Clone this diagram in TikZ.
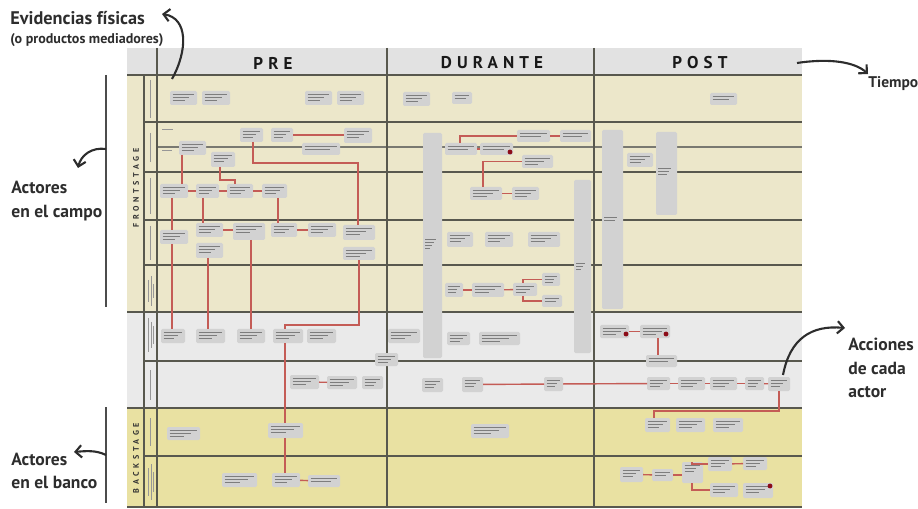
\documentclass[tikz,border=0pt]{standalone}
\usepackage{fontspec}
\setmainfont{PT Sans}
\newfontfamily\annotfont{PT Sans}
\newfontfamily\headfont[LetterSpace=30]{PT Sans}
\newfontfamily\stagefont[LetterSpace=45]{PT Sans}
\usetikzlibrary{arrows.meta}

\definecolor{headbg}{RGB}{226,226,226}
\definecolor{frontbg}{RGB}{236,231,202}
\definecolor{midbg}{RGB}{234,234,234}
\definecolor{backbg}{RGB}{233,225,162}
\definecolor{gridc}{RGB}{88,88,78}
\definecolor{boxc}{RGB}{210,210,210}
\definecolor{txtc}{RGB}{125,125,125}
\definecolor{linkc}{RGB}{196,92,86}
\definecolor{dotc}{RGB}{140,12,24}
\definecolor{annc}{RGB}{45,45,45}

\tikzset{
  gridline/.style={draw=gridc, line width=0.85pt},
  gridthin/.style={draw=gridc!80, line width=0.6pt},
  abox/.style={fill=boxc, draw=none, rounded corners=0.8pt, inner sep=0pt, outer sep=0pt},
  link/.style={draw=linkc, line width=0.8pt},
  txl/.style={draw=txtc, line width=0.5pt},
  lbl/.style={draw=txtc!80, line width=0.45pt},
  reddot/.style={fill=dotc},
  callout/.style={draw=annc, line width=1.2pt, -{Straight Barb[length=3.5pt,width=7pt]}},
  bracketline/.style={draw=annc!85, line width=1.2pt},
  annot/.style={font=\annotfont\bfseries\fontsize{10}{13.5}\selectfont, text=annc, inner sep=0pt, align=left},
  annottitle/.style={font=\annotfont\bfseries\fontsize{10.4}{12}\selectfont, text=annc, inner sep=0pt},
  annotsm/.style={font=\annotfont\bfseries\fontsize{8}{9}\selectfont, text=annc, inner sep=0pt},
  annotside/.style={font=\annotfont\bfseries\fontsize{8.8}{10}\selectfont, text=annc, inner sep=0pt},
  head/.style={font=\headfont\bfseries\fontsize{9.7}{11}\selectfont, text=black!90, inner sep=0pt},
  stage/.style={font=\stagefont\bfseries\fontsize{4.6}{5}\selectfont, text=black!80, inner sep=0pt},
}

% activity card: name, x1, y1, x2, y2 (pixel grid, y downwards)
\newcommand\actbox[5]{%
  \node[abox, minimum width={(#4-#2)*0.02cm}, minimum height={(#5-#3)*0.02cm}] (#1) at ({(#2+#4)/2},{(#3+#5)/2}) {};
  \pgfmathsetmacro\bxw{#4-#2}%
  \pgfmathtruncatemacro\bxh{#5-#3}%
  \draw[txl] ({#2+2.5},{#3+3.8}) -- ({#4-3},{#3+3.8});
  \draw[txl] ({#2+2.5},{#3+6.8}) -- ({#4-2.5-0.2*\bxw},{#3+6.8});
  \ifnum\bxh>12 \draw[txl] ({#2+2.5},{#3+9.8}) -- ({#2+2.5+0.45*\bxw},{#3+9.8});\fi
}
% tall card: name, x1, y1, x2, y2, first text line y, number of text lines
\newcommand\tallcard[7]{%
  \node[abox, minimum width={(#4-#2)*0.02cm}, minimum height={(#5-#3)*0.02cm}] (#1) at ({(#2+#4)/2},{(#3+#5)/2}) {};
  \foreach \k in {1,...,#7}{
    \draw[txl] ({#2+2},{#6+3*(\k-1)}) -- ({#4-4-2*\k},{#6+3*(\k-1)});
  }
}

\begin{document}
\begin{tikzpicture}[x=0.02cm, y=-0.02cm]
\useasboundingbox (0,0) rectangle (918,509);

% ---- bands ----
\fill[headbg]  (127,48)  rectangle (802,75);
\fill[frontbg] (127,75)  rectangle (802,312);
\fill[midbg]   (127,312) rectangle (802,408);
\fill[backbg]  (127,408) rectangle (802,507);

% ---- grid ----
\foreach \yy in {75,312,408,507} \draw[gridline] (127,\yy) -- (802,\yy);
\foreach \yy in {122,172,220,265,361,456} \draw[gridline] (144,\yy) -- (802,\yy);
\draw[gridthin] (157,147) -- (802,147);
\draw[gridline] (144,75) -- (144,507);
\foreach \xx in {157,387,594} \draw[gridline] (\xx,48) -- (\xx,507);

% ---- phase headings ----
\node[head] (pre) at (273,63) {PRE};
\node[head] (durante) at (492,63) {DURANTE};
\node[head] (post) at (700,63) {POST};

% ---- stage labels ----
\node[stage, rotate=90] (front) at (136,188) {FRONTSTAGE};
\node[stage, rotate=90] (back) at (136,458) {BACKSTAGE};

% ---- lane labels ----
\draw[lbl] (150.5,80) -- (150.5,118);
\draw[lbl] (150.5,133) -- (150.5,162);
\draw[lbl] (150.5,178) -- (150.5,214);
\draw[lbl] (150.5,226) -- (150.5,260);
\draw[lbl] (148.5,280) -- (148.5,302);
\draw[lbl] (151,276) -- (151,306);
\draw[lbl] (153.5,284) -- (153.5,298);
\draw[lbl] (148.5,318) -- (148.5,352);
\draw[lbl] (151,322) -- (151,348);
\draw[lbl] (153.5,326) -- (153.5,344);
\draw[lbl] (150.5,370) -- (150.5,400);
\draw[lbl] (150.5,418) -- (150.5,446);
\draw[lbl] (148.5,468) -- (148.5,496);
\draw[lbl] (151,464) -- (151,500);
\draw[lbl] (153.5,472) -- (153.5,492);
\draw[lbl] (162,129) -- (173,129);
\draw[lbl] (162,150) -- (172,150);

% ---- tall cards ----
\tallcard{bar1}{423}{133}{442}{358}{239}{4}
\tallcard{bar2}{574}{180}{591}{353}{263}{3}
\tallcard{bar3}{602}{130}{623}{309}{217}{2}
\tallcard{bar4}{656}{132}{677}{215}{168}{3}

% ---- evidence lane ----
\actbox{e1}{170}{91}{197}{105}
\actbox{e2}{202}{91}{230}{105}
\actbox{e3}{305}{91}{332}{105}
\actbox{e4}{337}{91}{364}{105}
\actbox{e5}{403}{92}{430}{106}
\actbox{e6}{452}{92}{472}{104}
\actbox{e7}{710}{93}{737}{105}

% ---- PRE, field actors ----
\actbox{pA}{240}{128}{263}{142}
\actbox{pB}{271}{128}{293}{142}
\actbox{pC}{344}{128}{372}{143}
\actbox{pD}{302}{143}{340}{155}
\actbox{pE}{179}{141}{206}{155}
\actbox{pF}{211}{152}{235}{167}
\actbox{pG}{160}{184}{188}{198}
\actbox{pH}{196}{184}{219}{198}
\actbox{pI}{227}{184}{253}{198}
\actbox{pJ}{262}{184}{287}{198}
\actbox{pK}{160}{230}{188}{244}
\actbox{pL}{196}{223}{223}{237}
\actbox{pM}{233}{223}{265}{240}
\actbox{pN}{271}{223}{297}{237}
\actbox{pO}{308}{223}{336}{237}
\actbox{pP}{343}{225}{375}{240}
\actbox{pL2}{196}{243}{223}{258}
\actbox{pP2}{343}{247}{375}{260}

% ---- PRE, coordination lanes ----
\actbox{r1}{161}{329}{185}{343}
\actbox{r2}{196}{329}{225}{343}
\actbox{r3}{237}{329}{265}{343}
\actbox{rQ}{273}{329}{303}{343}
\actbox{r5}{307}{329}{336}{343}
\actbox{s1}{290}{375}{319}{389}
\actbox{s2}{327}{376}{357}{389}
\actbox{s3}{362}{376}{383}{389}
\actbox{b1}{375}{353}{398}{366}

% ---- PRE, bank ----
\actbox{q1}{167}{427}{200}{440}
\actbox{qQ2}{268}{423}{303}{438}
\actbox{x1}{222}{473}{257}{487}
\actbox{xQ}{272}{473}{300}{487}
\actbox{x3}{308}{475}{340}{487}

% ---- DURANTE ----
\actbox{dA}{445}{143}{477}{155}
\actbox{dB}{517}{130}{550}{142}
\actbox{dC}{560}{130}{591}{142}
\actbox{dD}{480}{143}{513}{155}
\actbox{dE}{522}{155}{553}{168}
\actbox{dF}{470}{187}{502}{200}
\actbox{dG}{512}{187}{539}{200}
\actbox{dH}{447}{232}{473}{247}
\actbox{dI}{485}{232}{513}{247}
\actbox{dJ}{528}{232}{560}{247}
\actbox{dK}{445}{283}{463}{297}
\actbox{dL}{472}{283}{504}{297}
\actbox{dM}{513}{283}{537}{296}
\actbox{dN}{542}{273}{560}{286}
\actbox{dO}{542}{295}{562}{307}
\actbox{d1}{388}{329}{420}{343}
\actbox{d2}{447}{332}{470}{345}
\actbox{d3}{479}{332}{520}{345}
\actbox{s4}{422}{378}{443}{392}
\actbox{s5}{462}{377}{483}{392}
\actbox{s6}{544}{377}{563}{391}
\actbox{w1}{471}{424}{509}{438}

% ---- POST ----
\actbox{z1}{627}{153}{653}{167}
\actbox{u1}{600}{325}{629}{338}
\actbox{u2}{640}{325}{670}{338}
\actbox{u3}{646}{355}{677}{367}
\actbox{t1}{647}{377}{670}{390}
\actbox{t2}{678}{377}{705}{390}
\actbox{t3}{710}{377}{737}{390}
\actbox{t4}{745}{377}{764}{390}
\actbox{t5}{768}{377}{790}{391}
\actbox{v1}{645}{418}{670}{432}
\actbox{v2}{676}{418}{705}{432}
\actbox{v3}{713}{418}{743}{432}
\actbox{y1}{620}{467}{643}{482}
\actbox{y2}{652}{469}{673}{481}
\actbox{y3}{682}{462}{703}{483}
\actbox{y4}{708}{457}{732}{471}
\actbox{y5}{743}{457}{767}{470}
\actbox{y6}{710}{483}{738}{497}
\actbox{y7}{743}{483}{773}{498}

% ---- markers ----
\fill[reddot] (510,152) circle[radius=1.4pt];
\fill[reddot] (626,334) circle[radius=1.4pt];
\fill[reddot] (666,334) circle[radius=1.4pt];
\fill[reddot] (770,486) circle[radius=1.4pt];

% ---- flows, PRE ----
\draw[link] (pB.east) -- (pB.east -| pC.west);
\draw[link] (pA.south -| 253,0) -- ++(0,21) -| (pP.north -| 358,0);
\draw[link] (pE.south -| 182,0) -- (pG.north -| 182,0);
\draw[link] (pF.south -| 220,0) -- ++(0,13) -| (pI.north -| 235,0);
\draw[link] (pG) -- (pH);
\draw[link] (pH) -- (pI);
\draw[link] (pI) -- (pJ);
\draw[link] (pG.south -| 172,0) -- (pK.north -| 172,0);
\draw[link] (pH.south -| 203,0) -- (pL.north -| 203,0);
\draw[link] (pJ.south -| 278,0) -- (pN.north -| 278,0);
\draw[link] (pL.east) -- (pL.east -| pM.west);
\draw[link] (pN) -- (pO);
\draw[link] (pK.south -| 172,0) -- (r1.north -| 172,0);
\draw[link] (pL2.south -| 208,0) -- (r2.north -| 208,0);
\draw[link] (pM.south -| 251,0) -- (r3.north -| 251,0);
\draw[link] (pP2.south -| 359,0) -- ++(0,65) -| (rQ.north -| 285,0);
\draw[link] (rQ.south -| 285,0) -- (qQ2.north -| 285,0);
\draw[link] (qQ2.south -| 285,0) -- (xQ.north -| 285,0);
\draw[link] (xQ) -- (x3);
\draw[link] (s1) -- (s2);

% ---- flows, DURANTE ----
\draw[link] (dA.north -| 460,0) |- (dB.west);
\draw[link] (dB) -- (dC);
\draw[link] (dA) -- (dD);
\draw[link] (dE.west) -| (dF.north -| 483,0);
\draw[link] (dF) -- (dG);
\draw[link] (dK) -- (dL);
\draw[link] (dL) -- (dM);
\draw[link] (dM.north -| 523,0) |- (dN.west);
\draw[link] (dM.south -| 523,0) |- (dO.west);
\draw[link] (s5) -- (s6);
\draw[link] (s6) -- (t1);

% ---- flows, POST ----
\draw[link] (t1) -- (t2);
\draw[link] (t2) -- (t3);
\draw[link] (t3) -- (t4);
\draw[link] (t4) -- (t5);
\draw[link] (u1) -- (u2);
\draw[link] (u2.south -| 658,0) -- (u3.north -| 658,0);
\draw[link] (t5.south -| 779,0) -- ++(0,20) -| (v1.north -| 654,0);
\draw[link] (y1) -- (y2);
\draw[link] (y2.east) -- (y2.east -| y3.west);
\draw[link] (y3.north -| 692,0) |- (y4.west);
\draw[link] (y3.south -| 692,0) |- (y6.west);
\draw[link] (y4) -- (y5);

% ---- annotations ----
\node[annottitle, anchor=west] (evid) at (10,18) {Evidencias físicas};
\node[annotsm, anchor=west] (evidsub) at (10,40) {(o productos mediadores)};
\coordinate (evfoot) at (172,79);
\coordinate (evtip) at (162,14);
\draw[callout] (evfoot) .. controls (188,50) and (188,18) .. (evtip);

\node[annotside, anchor=west] (tiempo) at (868,84) {Tiempo};
\coordinate (tfoot) at (797,63);
\coordinate (ttip) at (868,74);
\draw[callout] (tfoot) .. controls (830,58) and (855,62) .. (ttip);

\node[annot, anchor=west] (acciones) at (848,368) {Acciones\\de cada\\actor};
\coordinate (afoot) at (783,375);
\coordinate (atip) at (845,328);
\draw[callout] (afoot) .. controls (790,338) and (812,325) .. (atip);

\draw[bracketline] (106,75) -- (106,307);
\node[annot, anchor=west] (campo) at (11,201) {Actores\\en el campo};
\coordinate (cfoot) at (106,149);
\coordinate (ctip) at (78,168);
\draw[callout] (cfoot) .. controls (92,147) and (81,155) .. (ctip);

\draw[bracketline] (106,407) -- (106,503);
\node[annot, anchor=west] (banco) at (11,471) {Actores\\en el banco};
\coordinate (bfoot) at (106,455);
\coordinate (btip) at (74,452);
\draw[callout] (bfoot) .. controls (96,450) and (86,451) .. (btip);
\end{tikzpicture}
\end{document}
